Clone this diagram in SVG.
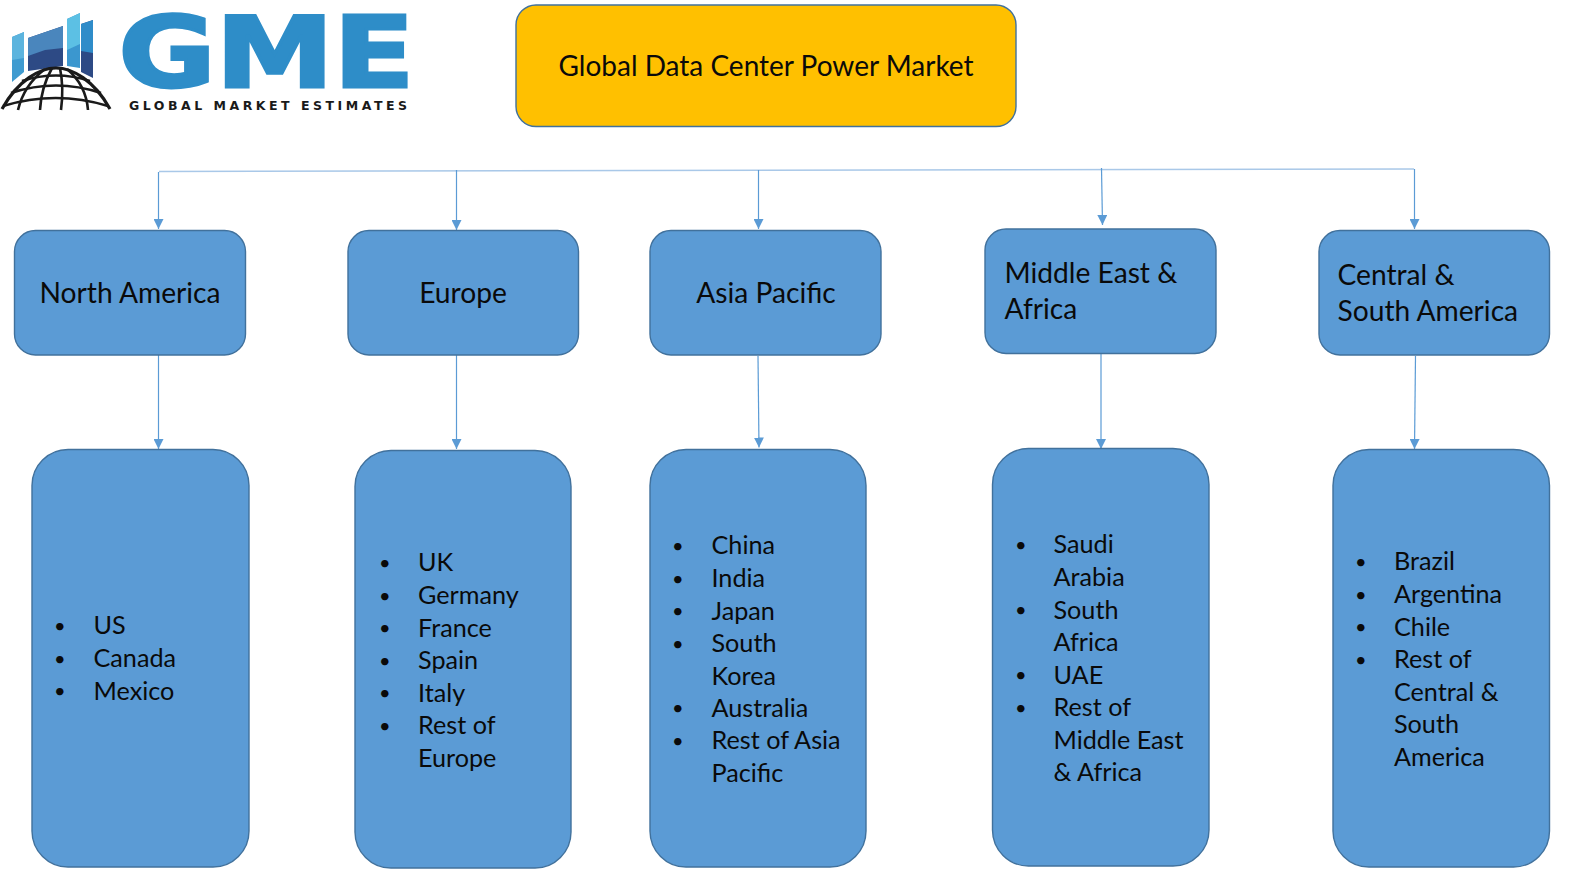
<svg xmlns="http://www.w3.org/2000/svg" width="1575" height="869" viewBox="0 0 1575 869">
<style>
text{font-family:Lato,"Liberation Sans",sans-serif;fill:#0a0a0a}
.b{fill:#5B9BD5;stroke:#41719C;stroke-width:1.4}
.t{font-size:28.2px}
.l{font-size:25.2px}
.d{font-size:20px}
.c{fill:none;stroke:#5B9BD5;stroke-width:1.2}
.g{fill:none;stroke:#1a1a1a;stroke-width:2.6}
</style>
<defs><marker id="a" markerUnits="userSpaceOnUse" markerWidth="10" markerHeight="10" refX="10" refY="5" orient="auto"><path d="M0 0L10 5L0 10Z" fill="#5B9BD5"/></marker></defs>
<rect width="1575" height="869" fill="#fff"/>
<g id="logo">
<path d="M12 37L24 32V72L12 82Z" fill="#3f9bd0"/><path d="M12 37L24 32V58L12 60Z" fill="#5cb4de"/>
<path d="M28 38L63 26V66L28 71Z" fill="#2d4a85"/><path d="M28 38L63 26V48L45 50L28 56Z" fill="#4a86bd"/>
<path d="M67 19L80 13V68L67 66Z" fill="#3b97cf"/><path d="M67 19L80 13V44L67 50Z" fill="#5cc0e4"/>
<path d="M81 24L93 20V78L81 72Z" fill="#2d4a85"/><path d="M81 24L93 20V53L81 51Z" fill="#2f8cc9"/>
<g class="g"><path d="M2 109C18 80 40 68 56 68C72 68 94 80 110 109" stroke-width="3.200"/><path d="M22 81Q56 70 90 81M11 93Q56 78 101 93M3 106Q56 90 108 106"/><path d="M18 110Q24 85 45 69M40 110Q41 88 52 68M61 110Q64 88 60 68M88 110Q86 85 67 69"/></g>
<text x="118.500" y="87" font-size="98" font-weight="700" textLength="296" lengthAdjust="spacingAndGlyphs" style="font-family:'DejaVu Sans',sans-serif;fill:#2E8DC8;stroke:#2E8DC8;stroke-width:3">GME</text>
<text x="129" y="110" font-size="12.500" font-weight="700" textLength="278" lengthAdjust="spacing" style="font-family:'DejaVu Sans',sans-serif;fill:#1a1a1a">GLOBAL MARKET ESTIMATES</text>
</g>
<g id="connectors">
<path d="M159 171.500L1414 169" fill="none" stroke="#a9c8e8" stroke-width="1.500"/>
<path class="c" marker-end="url(#a)" d="M158.500 172V229"/>
<path class="c" marker-end="url(#a)" d="M456.500 170V230"/>
<path class="c" marker-end="url(#a)" d="M758.500 170V229"/>
<path class="c" marker-end="url(#a)" d="M1101.500 168L1102.500 225"/>
<path class="c" marker-end="url(#a)" d="M1414.500 169V229"/>
<path class="c" marker-end="url(#a)" d="M158.500 355V449"/>
<path class="c" marker-end="url(#a)" d="M456.500 355V449"/>
<path class="c" marker-end="url(#a)" d="M758 356L759 447.500"/>
<path class="c" marker-end="url(#a)" d="M1101 354V449"/>
<path class="c" marker-end="url(#a)" d="M1415.500 356L1414.500 449"/>
</g>
<g id="title"><rect class="b" x="516" y="5" width="500" height="121.500" rx="20" style="fill:#FFC000"/><text x="766" y="76" text-anchor="middle" style="font-size:28px">Global Data Center Power Market</text></g>
<g id="north-america"><rect class="b" x="14.500" y="230.500" width="231" height="124.500" rx="21"/><text x="130" y="303" text-anchor="middle" class="t">North America</text></g>
<g id="europe"><rect class="b" x="348" y="230.500" width="230.500" height="124.500" rx="21"/><text x="463" y="303" text-anchor="middle" class="t">Europe</text></g>
<g id="asia-pacific"><rect class="b" x="650" y="230.500" width="231" height="124.500" rx="21"/><text x="766" y="303" text-anchor="middle" class="t">Asia Pacific</text></g>
<g id="middle-east-africa"><rect class="b" x="985" y="229" width="231" height="124.500" rx="21"/><text x="1004.500" y="283" class="t">Middle East &amp;</text><text x="1004.500" y="319" class="t">Africa</text></g>
<g id="central-south-america"><rect class="b" x="1319" y="230.500" width="230.500" height="124.500" rx="21"/><text x="1337.500" y="285" class="t">Central &amp;</text><text x="1337.500" y="321" class="t">South America</text></g>

<g id="na-list"><rect class="b" x="32" y="449.500" width="217" height="417.500" rx="36"/>
<g class="l"><text class="d" x="54" y="632.500">•</text><text x="93.500" y="634">US</text><text class="d" x="54" y="665.500">•</text><text x="93.500" y="667">Canada</text><text class="d" x="54" y="697.500">•</text><text x="93.500" y="699.500">Mexico</text></g></g>
<g id="eu-list"><rect class="b" x="355" y="450.500" width="216" height="417.500" rx="36"/>
<g class="l"><text class="d" x="379" y="569.500">•</text><text x="418" y="571">UK</text><text class="d" x="379" y="602.500">•</text><text x="418" y="604">Germany</text><text class="d" x="379" y="634.500">•</text><text x="418" y="636.500">France</text><text class="d" x="379" y="667.500">•</text><text x="418" y="669">Spain</text><text class="d" x="379" y="699.500">•</text><text x="418" y="701.500">Italy</text><text class="d" x="379" y="732.500">•</text><text x="418" y="734">Rest of</text><text x="418" y="766.500">Europe</text></g></g>
<g id="ap-list"><rect class="b" x="650" y="449.500" width="216" height="417.500" rx="36"/>
<g class="l"><text class="d" x="672" y="552.500">•</text><text x="711.500" y="554">China</text><text class="d" x="672" y="585.500">•</text><text x="711.500" y="587">India</text><text class="d" x="672" y="617.500">•</text><text x="711.500" y="619.500">Japan</text><text class="d" x="672" y="650.500">•</text><text x="711.500" y="652">South</text><text x="711.500" y="684.500">Korea</text><text class="d" x="672" y="714.500">•</text><text x="711.500" y="717">Australia</text><text class="d" x="672" y="747.500">•</text><text x="711.500" y="749">Rest of Asia</text><text x="711.500" y="781.500">Pacific</text></g></g>
<g id="mea-list"><rect class="b" x="992.500" y="448.500" width="216.500" height="417.500" rx="36"/>
<g class="l"><text class="d" x="1014.900" y="551.500">•</text><text x="1053.500" y="553">Saudi</text><text x="1053.500" y="586">Arabia</text><text class="d" x="1014.900" y="616.500">•</text><text x="1053.500" y="618.500">South</text><text x="1053.500" y="651">Africa</text><text class="d" x="1014.900" y="681.500">•</text><text x="1053.500" y="683.500">UAE</text><text class="d" x="1014.900" y="714.500">•</text><text x="1053.500" y="716">Rest of</text><text x="1053.500" y="748.500">Middle East</text><text x="1053.500" y="781">&amp; Africa</text></g></g>
<g id="csa-list"><rect class="b" x="1333" y="449.500" width="216.500" height="417.500" rx="36"/>
<g class="l"><text class="d" x="1355" y="568.500">•</text><text x="1394" y="570">Brazil</text><text class="d" x="1355" y="601.500">•</text><text x="1394" y="603">Argentina</text><text class="d" x="1355" y="633.500">•</text><text x="1394" y="635.500">Chile</text><text class="d" x="1355" y="666.500">•</text><text x="1394" y="668">Rest of</text><text x="1394" y="700.500">Central &amp;</text><text x="1394" y="733">South</text><text x="1394" y="765.500">America</text></g></g>
</svg>
